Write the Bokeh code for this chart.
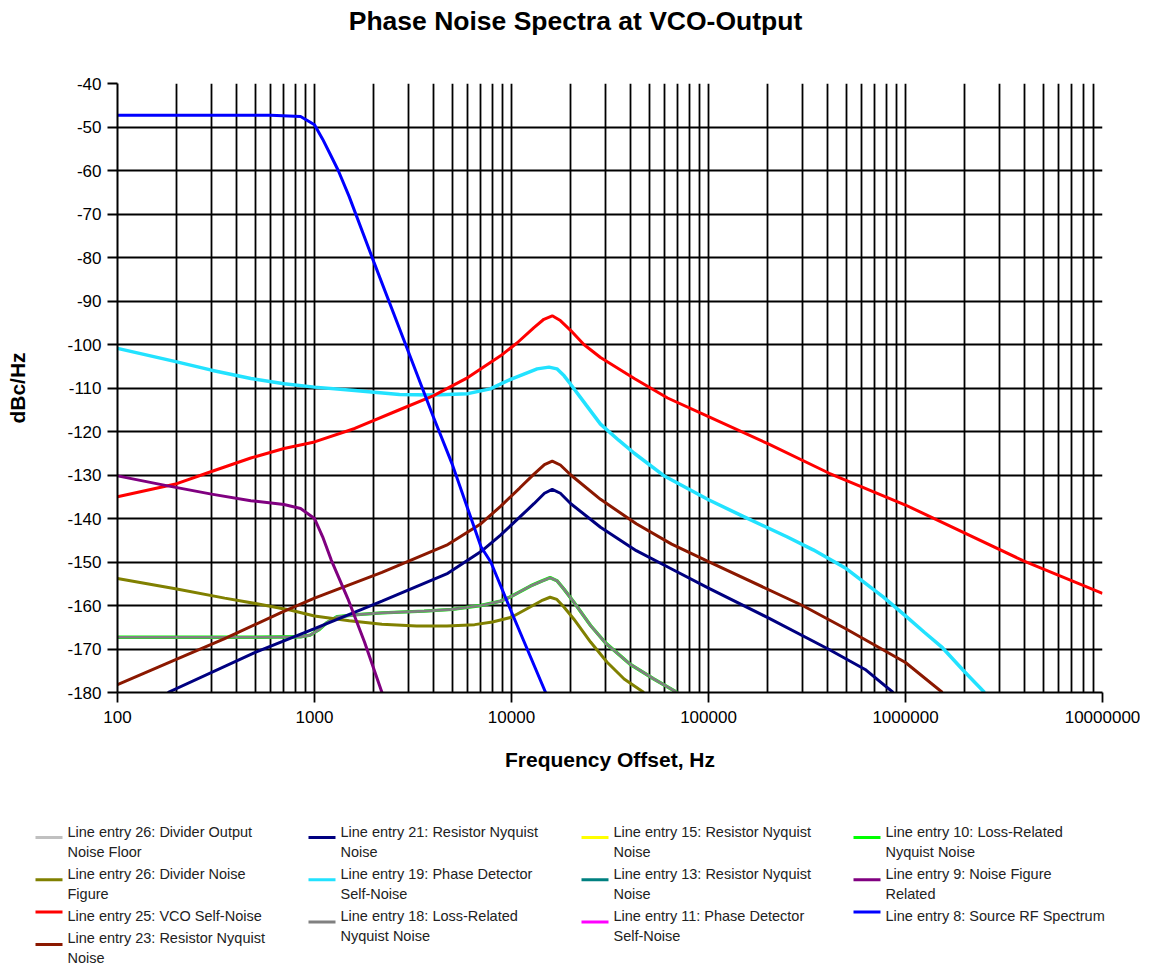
from bokeh.plotting import figure
from bokeh.models import Range1d, FixedTicker
from bokeh.embed import file_html
from bokeh.resources import INLINE
from bokeh.core.properties import value

# ---------------- data ----------------
x_tick_values = [100, 1000, 10000, 100000, 1000000, 10000000]
x_tick_labels = ["100", "1000", "10000", "100000", "1000000", "10000000"]
x_minor_values = [m * d for d in [100, 1000, 10000, 100000, 1000000] for m in range(2, 10)]
y_tick_values = [-180, -170, -160, -150, -140, -130, -120, -110, -100, -90, -80, -70, -60, -50, -40]
y_tick_labels = ["-180", "-170", "-160", "-150", "-140", "-130", "-120", "-110", "-100", "-90", "-80", "-70", "-60",
                 "-50", "-40"]

blue_f = [100, 300, 600, 850, 1000, 1100, 1200, 1320, 1500, 2000, 2900, 4000, 5000, 7000, 7850, 10000, 14900]
blue_db = [-47.3, -47.3, -47.3, -47.6, -49.5, -52.8, -56.2, -60.0, -66.0, -81.0, -100.0, -116.5, -127.5, -146.5, -150.0, -161.5, -180.0]

cyan_f = [100, 200, 300, 475, 700, 1000, 1600, 2700, 4000, 6000, 7800, 9900, 12000, 13500, 15500, 17000, 18500, 20000,
          24000, 28300, 35000, 42000, 60000, 100000, 150000, 250000, 340000, 500000, 770000, 1000000, 1250000, 1540000,
          2000000, 2520000]
cyan_db = [-100.9, -104.0, -105.9, -107.8, -109.0, -109.8, -110.6, -111.5, -111.6, -111.3, -110.2, -108.0, -106.5, -105.6,
           -105.2, -105.6, -107.2, -109.2, -114.0, -118.3, -122.0, -125.0, -130.3, -135.7, -139.5, -144.2, -147.2, -151.5,
           -158.0, -162.4, -166.2, -169.7, -175.3, -180.0]

red_f = [100, 200, 300, 475, 700, 1000, 1600, 2700, 4000, 6000, 8800, 10700, 13000, 14600, 16100, 17700, 20000, 23300,
         28300, 42000, 62000, 100000, 200000, 410000, 1000000, 4000000, 10000000]
red_db = [-135.0, -132.0, -129.2, -126.1, -123.9, -122.4, -119.3, -115.0, -111.8, -107.6, -102.6, -99.6, -96.1, -94.2,
          -93.4, -94.5, -96.8, -100.0, -103.0, -107.8, -112.3, -116.6, -122.8, -129.6, -136.9, -149.8, -157.2]

brown_f = [100, 200, 350, 680, 1000, 2200, 4750, 7000, 8800, 11000, 13000, 14700, 16100, 17700, 20000, 28300, 43000,
           65000, 100000, 300000, 500000, 1000000, 1540000]
brown_db = [-178.2, -172.3, -167.6, -161.6, -158.3, -152.4, -146.0, -141.2, -137.2, -133.0, -129.8, -127.6, -126.8,
            -127.7, -130.0, -135.6, -141.2, -145.9, -149.9, -160.0, -165.4, -173.1, -180.0]

navy_f = [180, 500, 1000, 2200, 4750, 7000, 8800, 11000, 13000, 14700, 16100, 17700, 20000, 28300, 43000, 65000,
          100000, 200000, 405000, 624000, 866000]
navy_db = [-180.0, -170.8, -165.3, -159.0, -152.6, -147.6, -143.8, -139.7, -136.6, -134.2, -133.3, -134.2, -136.6,
           -142.0, -147.4, -151.6, -156.0, -162.8, -170.0, -174.7, -180.0]

gray_f = [100, 500, 850, 950, 1050, 1150, 1300, 1650, 2200, 3600, 5000, 7000, 8800, 10000, 12500, 14200, 15700, 17000,
          18500, 20700, 25200, 30000, 40000, 52800, 69300]
gray_db = [-167.3, -167.3, -167.2, -166.8, -165.6, -164.0, -162.6, -162.1, -161.7, -161.3, -160.9, -160.0, -159.0,
           -157.9, -155.5, -154.4, -153.6, -154.3, -156.3, -159.2, -164.6, -168.6, -173.5, -176.9, -180.0]

olive_f = [100, 200, 350, 510, 760, 1000, 1500, 2200, 3300, 4700, 6500, 8000, 10000, 12500, 14200, 15700, 17000, 18500,
           20700, 25200, 30500, 37300, 47000]
olive_db = [-153.8, -156.2, -158.3, -159.6, -161.1, -162.4, -163.5, -164.3, -164.7, -164.7, -164.4, -163.8, -162.7,
            -160.3, -158.9, -158.1, -158.6, -160.4, -163.1, -168.4, -173.0, -176.9, -180.0]

purple_f = [100, 180, 300, 475, 700, 850, 1000, 1100, 1215, 1476, 1794, 2200]
purple_db = [-130.2, -132.5, -134.4, -135.9, -136.8, -137.7, -140.0, -144.2, -149.5, -158.4, -168.4, -180.0]

# legend columns: (label, colour)
legend_columns = [
    [("Line entry 26: Divider Output\nNoise Floor", "#C0C0C0"),
     ("Line entry 26: Divider Noise\nFigure", "#808000"),
     ("Line entry 25: VCO Self-Noise", "#FF0000"),
     ("Line entry 23: Resistor Nyquist\nNoise", "#8B1800")],
    [("Line entry 21: Resistor Nyquist\nNoise", "#000080"),
     ("Line entry 19: Phase Detector\nSelf-Noise", "#22E2FF"),
     ("Line entry 18: Loss-Related\nNyquist Noise", "#808080")],
    [("Line entry 15: Resistor Nyquist\nNoise", "#FFFF00"),
     ("Line entry 13: Resistor Nyquist\nNoise", "#008080"),
     ("Line entry 11: Phase Detector\nSelf-Noise", "#FF00FF")],
    [("Line entry 10: Loss-Related\nNyquist Noise", "#00FF00"),
     ("Line entry 9: Noise Figure\nRelated", "#800080"),
     ("Line entry 8: Source RF Spectrum", "#0000FF")],
]
title_text = "Phase Noise Spectra at VCO-Output"

FONT = "Liberation Sans"
W = 1140
TITLE_H = 45          # page y 0..45
MAIN_BOTTOM = 785     # page y 45..785
LEG_BOTTOM = 966      # page y 785..966

# frame position in page pixels
FR_L, FR_R, FR_T, FR_B = 117, 1102, 83, 692


def blank_fig(h, y_top, y_bottom):
    f = figure(width=W, height=h, x_range=Range1d(0, W), y_range=Range1d(y_bottom, y_top),
               x_axis_location=None, y_axis_location=None,
               output_backend="svg", toolbar_location=None,
               min_border=0, min_border_left=0, min_border_right=0, min_border_top=0, min_border_bottom=0)
    f.grid.visible = False
    f.outline_line_color = None
    f.background_fill_color = "white"
    f.border_fill_color = "white"
    return f


# ---------------- title ----------------
tf = blank_fig(TITLE_H, 0, TITLE_H)
tf.text(x=[575], y=[20], text=[title_text], text_font=value(FONT), text_font_size="26.5px",
        text_font_style="bold", text_color="black", text_align="center", text_baseline="middle")

# ---------------- main chart ----------------
p = figure(width=W, height=MAIN_BOTTOM - TITLE_H, x_axis_type="log",
           x_range=Range1d(100, 1e7), y_range=Range1d(-180, -40),
           output_backend="svg", toolbar_location=None,
           min_border_left=FR_L, min_border_right=W - FR_R,
           min_border_top=FR_T - TITLE_H, min_border_bottom=MAIN_BOTTOM - FR_B)
p.outline_line_color = None
p.background_fill_color = "white"
p.border_fill_color = "white"

p.xaxis.ticker = FixedTicker(ticks=x_tick_values, minor_ticks=x_minor_values)
p.xaxis.major_label_overrides = {v: s for v, s in zip(x_tick_values, x_tick_labels)}
p.yaxis.ticker = FixedTicker(ticks=y_tick_values)
p.yaxis.major_label_overrides = {v: s for v, s in zip(y_tick_values, y_tick_labels)}
for ax in (p.xaxis[0], p.yaxis[0]):
    ax.axis_line_color = "black"
    ax.axis_line_width = 2
    ax.major_tick_line_color = "black"
    ax.major_tick_line_width = 1.8
    ax.major_tick_out = 10
    ax.major_tick_in = 0
    ax.minor_tick_out = 0
    ax.minor_tick_in = 0
    ax.major_label_text_font = FONT
    ax.major_label_text_font_size = "17px"
    ax.major_label_text_color = "black"
    ax.axis_label_text_font = FONT
    ax.axis_label_text_font_size = "21px"
    ax.axis_label_text_font_style = "bold"
    ax.axis_label_text_color = "black"
p.xaxis.major_label_standoff = 8
p.yaxis.major_label_standoff = 6
p.xaxis.axis_label = "Frequency Offset, Hz"
p.yaxis.axis_label = "dBc/Hz"
p.xaxis.axis_label_standoff = 22
p.yaxis.axis_label_standoff = 35

for g in (p.xgrid[0], p.ygrid[0]):
    g.grid_line_color = "black"
    g.grid_line_width = 1.8
p.xgrid.minor_grid_line_color = "black"
p.xgrid.minor_grid_line_width = 1.8

LW = 3
p.line(gray_f, gray_db, color="#00FF00", line_width=LW + 0.4)
p.line(gray_f, gray_db, color="#808080", line_width=LW - 0.3)
p.line(olive_f, olive_db, color="#808000", line_width=LW)
p.line(brown_f, brown_db, color="#8B1800", line_width=LW)
p.line(navy_f, navy_db, color="#000080", line_width=LW)
p.line(cyan_f, cyan_db, color="#22E2FF", line_width=LW + 0.5)
p.line(red_f, red_db, color="#FF0000", line_width=LW)
p.line(purple_f, purple_db, color="#800080", line_width=LW)
p.line(blue_f, blue_db, color="#0000FF", line_width=LW)

# ---------------- legend ----------------
lg = blank_fig(LEG_BOTTOM - MAIN_BOTTOM, MAIN_BOTTOM, LEG_BOTTOM)
col_x = [35, 308, 581, 853]
SW = 27
LINE_H = 20
GAP = 2.3
first_y = 831
for cx, items in zip(col_x, legend_columns):
    y = first_y
    for label, color in items:
        lines = label.split("\n")
        n = len(lines)
        swy = y + (n - 1) * LINE_H / 2 - 4
        lg.segment(x0=[cx], y0=[swy], x1=[cx + SW], y1=[swy], line_color=color, line_width=3)
        lg.text(x=[cx + 32] * n, y=[y + k * LINE_H for k in range(n)], text=lines,
                text_font=value(FONT), text_font_size="14.5px", text_color="#222222",
                text_baseline="middle", text_align="left")
        y += n * LINE_H + GAP

open("out.html", "w").write(file_html([tf, p, lg], INLINE))
